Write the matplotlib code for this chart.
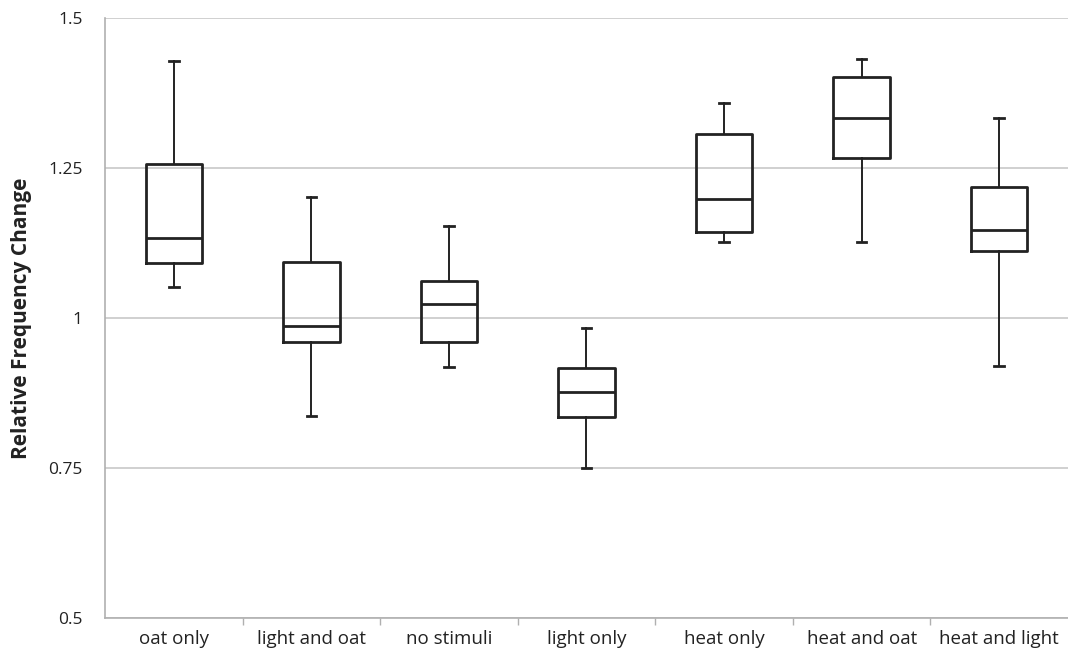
import matplotlib
matplotlib.use("Agg")
import matplotlib.pyplot as plt

plt.rcParams["font.family"] = ["Open Sans", "DejaVu Sans"]

# Values
CATEGORIES = ["oat only", "light and oat", "no stimuli", "light only",
              "heat only", "heat and oat", "heat and light"]
WHISKER_LOW = [1.052, 0.836, 0.919, 0.750, 1.126, 1.126, 0.920]
Q1 = [1.092, 0.960, 0.960, 0.835, 1.143, 1.266, 1.112]
MEDIAN = [1.133, 0.987, 1.023, 0.877, 1.199, 1.333, 1.147]
Q3 = [1.257, 1.093, 1.062, 0.917, 1.306, 1.402, 1.218]
WHISKER_HIGH = [1.429, 1.201, 1.153, 0.983, 1.359, 1.431, 1.334]

Y_TICKS = [0.5, 0.75, 1.0, 1.25, 1.5]
Y_TICK_LABELS = ["0.5", "0.75", "1", "1.25", "1.5"]


def build_stats():
    stats = []
    for name, lo, q1, med, q3, hi in zip(CATEGORIES, WHISKER_LOW, Q1, MEDIAN, Q3, WHISKER_HIGH):
        stats.append({"label": name, "whislo": lo, "q1": q1, "med": med,
                      "q3": q3, "whishi": hi, "fliers": []})
    return stats


def main():
    fig = plt.figure(figsize=(10.68, 6.53), dpi=100)
    ax = fig.add_axes([0.0983, 0.0536, 0.9017, 0.9188])

    positions = list(range(len(CATEGORIES)))
    ax.bxp(
        build_stats(),
        positions=positions,
        widths=0.41,
        capwidths=0.07,
        showfliers=False,
        boxprops={"linewidth": 2.0, "color": "#222222"},
        medianprops={"linewidth": 2.0, "color": "#222222"},
        whiskerprops={"linewidth": 1.4, "color": "#222222"},
        capprops={"linewidth": 2.0, "color": "#222222"},
        zorder=3,
    )

    ax.set_xlim(-0.5, len(CATEGORIES) - 0.5)
    ax.set_ylim(0.5, 1.5)

    ax.set_yticks(Y_TICKS)
    ax.set_yticklabels(Y_TICK_LABELS)
    ax.tick_params(axis="y", length=0, pad=16, labelsize=12.5, colors="#222222")
    ax.grid(axis="y", color="#c8c8c8", linewidth=1.2, zorder=0)

    ax.set_xticks(positions)
    ax.set_xticklabels(CATEGORIES)
    ax.tick_params(axis="x", which="major", length=0, pad=9, labelsize=13.5, colors="#222222")
    ax.set_xticks([p + 0.5 for p in positions[:-1]], minor=True)
    ax.tick_params(axis="x", which="minor", length=5, color="#b0b0b0", width=1)

    for side in ["top", "right"]:
        ax.spines[side].set_visible(False)
    ax.spines["left"].set_color("#b0b0b0")
    ax.spines["bottom"].set_color("#b0b0b0")
    ax.spines["left"].set_linewidth(1.2)
    ax.spines["bottom"].set_linewidth(1.2)

    ax.set_ylabel("Relative Frequency Change", fontsize=15, fontweight="bold",
                  color="#222222", labelpad=12)

    fig.savefig("out.png", dpi=100)
    plt.close(fig)


if __name__ == "__main__":
    main()
